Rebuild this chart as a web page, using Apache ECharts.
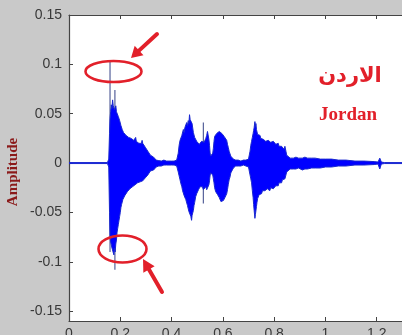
<!DOCTYPE html>
<html><head><meta charset="utf-8">
<script src="https://cdn.jsdelivr.net/npm/echarts@6/dist/echarts.min.js"></script>
<style>html,body{margin:0;padding:0;background:#c9c9c9;overflow:hidden;width:402px;height:335px}#c{width:428px;height:335px}</style>
</head><body><div id="c"></div>
<script>
// ---- envelope samples, segment by segment: time (s), upper and lower amplitude ----
const onsetTimes = [0, 0.150, 0.155];
const onsetUpper = [0.0005, 0.0005, 0.004];
const onsetLower = [-0.0005, -0.0005, -0.004];

const syl1Times = [
  0.158,0.160,0.1625,0.165,0.1675,0.170,0.1725,0.175,0.1775,0.180,
  0.1825,0.185,0.1875,0.190,0.1925,0.195,0.1975,0.200,0.2025,0.205,
  0.2075,0.210,0.2125,0.215,0.2175,0.220,0.2225,0.225,0.2275,0.230,
  0.2325,0.235,0.2375,0.240,0.2425,0.245,0.2475,0.250,0.2525,0.255,
  0.2575,0.260,0.2625,0.265,0.2675,0.270,0.2725,0.275,0.2775,0.280,
  0.2825,0.285,0.2875,0.290,0.2925,0.295,0.2975,0.300,0.3025,0.305,
  0.3075,0.310,0.3125,0.315,0.3175,0.320,0.325,0.330,0.335,0.340];
const syl1Upper = [
  0.030,0.045,0.052,0.059,0.055,0.064,0.058,0.060,0.054,0.056,
  0.058,0.052,0.053,0.050,0.047,0.046,0.043,0.041,0.038,0.036,
  0.034,0.033,0.031,0.032,0.029,0.030,0.028,0.029,0.027,0.028,
  0.026,0.028,0.025,0.027,0.025,0.027,0.024,0.026,0.023,0.025,
  0.023,0.026,0.022,0.024,0.021,0.023,0.020,0.021,0.019,0.022,
  0.020,0.023,0.020,0.022,0.018,0.019,0.016,0.017,0.014,0.016,
  0.012,0.013,0.010,0.011,0.008,0.009,0.007,0.006,0.004,0.003];
const syl1Lower = [
  -0.050,-0.075,-0.080,-0.078,-0.086,-0.088,-0.084,-0.093,-0.086,-0.090,
  -0.082,-0.078,-0.070,-0.066,-0.062,-0.058,-0.054,-0.050,-0.045,-0.042,
  -0.040,-0.037,-0.036,-0.035,-0.033,-0.034,-0.031,-0.032,-0.029,-0.030,
  -0.027,-0.029,-0.026,-0.028,-0.025,-0.027,-0.024,-0.026,-0.023,-0.025,
  -0.022,-0.024,-0.021,-0.023,-0.020,-0.022,-0.020,-0.022,-0.019,-0.021,
  -0.019,-0.021,-0.018,-0.020,-0.017,-0.018,-0.015,-0.016,-0.013,-0.015,
  -0.012,-0.013,-0.010,-0.011,-0.008,-0.009,-0.008,-0.007,-0.005,-0.004];

const gap1Times = [0.350,0.360,0.370,0.380,0.390,0.400,0.410,0.420];
const gap1Upper = [0.0025,0.002,0.003,0.002,0.002,0.002,0.002,0.003];
const gap1Lower = [-0.003,-0.003,-0.002,-0.002,-0.002,-0.002,-0.002,-0.003];

const syl2Times = [
  0.423,0.426,0.4295,0.433,0.4365,0.440,0.443,0.446,0.449,0.452,
  0.4555,0.459,0.462,0.465,0.4675,0.470,0.4725,0.475,0.478,0.480,
  0.482,0.485,0.4875,0.490,0.494,0.498,0.5015,0.505,0.508,0.511,
  0.514,0.517,0.5205,0.524,0.527,0.530,0.5335,0.537,0.540,0.543,
  0.5455,0.548,0.550,0.552,0.555,0.558,0.5605,0.563,0.5655,0.568,
  0.572,0.576,0.5795,0.583,0.586,0.589,0.5925,0.596,0.599,0.602,
  0.605,0.608,0.6115,0.615,0.618,0.621,0.6245,0.628,0.631,0.634,
  0.641];
const syl2Upper = [
  0.005,0.010,0.018,0.023,0.022,0.028,0.027,0.034,0.031,0.036,
  0.034,0.041,0.038,0.043,0.040,0.049,0.044,0.046,0.045,0.040,
  0.038,0.031,0.029,0.026,0.024,0.022,0.020,0.021,0.019,0.020,
  0.018,0.022,0.020,0.023,0.021,0.023,0.025,0.028,0.032,0.030,
  0.024,0.018,0.011,0.007,0.005,0.006,0.010,0.015,0.022,0.027,
  0.028,0.030,0.032,0.031,0.032,0.031,0.030,0.030,0.029,0.028,
  0.027,0.026,0.025,0.023,0.019,0.016,0.012,0.010,0.007,0.006,
  0.004];
const syl2Lower = [
  -0.004,-0.009,-0.013,-0.017,-0.021,-0.024,-0.028,-0.030,-0.033,-0.034,
  -0.037,-0.038,-0.043,-0.045,-0.049,-0.051,-0.050,-0.054,-0.058,-0.053,
  -0.052,-0.048,-0.043,-0.040,-0.034,-0.031,-0.029,-0.027,-0.025,-0.024,
  -0.023,-0.025,-0.024,-0.027,-0.025,-0.027,-0.024,-0.027,-0.025,-0.026,
  -0.022,-0.018,-0.013,-0.010,-0.008,-0.009,-0.012,-0.016,-0.020,-0.025,
  -0.029,-0.031,-0.032,-0.034,-0.035,-0.036,-0.039,-0.038,-0.040,-0.038,
  -0.036,-0.035,-0.033,-0.031,-0.027,-0.022,-0.017,-0.014,-0.010,-0.008,
  -0.005];

const gap2Times = [0.650,0.660,0.670,0.680,0.690,0.700];
const gap2Upper = [0.003,0.003,0.002,0.003,0.003,0.004];
const gap2Lower = [-0.003,-0.003,-0.003,-0.002,-0.003,-0.004];

const syl3Times = [
  0.703,0.706,0.709,0.712,0.715,0.718,0.720,0.722,0.725,0.727,
  0.729,0.731,0.733,0.7355,0.738,0.7415,0.745,0.748,0.751,0.7545,
  0.758,0.761,0.764,0.767,0.770,0.7735,0.777,0.780,0.783,0.7865,
  0.790,0.7935,0.797,0.800,0.803,0.8065,0.810,0.813,0.816,0.819,
  0.822,0.8255,0.829,0.832,0.835,0.8385,0.842,0.844,0.846,0.849,
  0.852,0.855,0.8625,0.870,0.875,0.880,0.885,0.890,0.895,0.900];
const syl3Upper = [
  0.006,0.012,0.018,0.022,0.026,0.030,0.033,0.036,0.042,0.037,
  0.040,0.034,0.032,0.029,0.030,0.027,0.028,0.025,0.026,0.023,
  0.024,0.022,0.023,0.022,0.024,0.021,0.023,0.021,0.022,0.021,
  0.023,0.020,0.022,0.020,0.022,0.019,0.021,0.018,0.020,0.017,
  0.019,0.016,0.017,0.015,0.016,0.014,0.017,0.015,0.012,0.008,
  0.006,0.006,0.005,0.007,0.005,0.005,0.006,0.006,0.005,0.006];
const syl3Lower = [
  -0.006,-0.012,-0.016,-0.020,-0.028,-0.035,-0.042,-0.048,-0.056,-0.052,
  -0.050,-0.044,-0.040,-0.036,-0.034,-0.032,-0.033,-0.030,-0.031,-0.028,
  -0.029,-0.027,-0.028,-0.026,-0.029,-0.026,-0.027,-0.025,-0.028,-0.025,
  -0.027,-0.024,-0.026,-0.024,-0.026,-0.023,-0.024,-0.021,-0.023,-0.020,
  -0.021,-0.018,-0.020,-0.017,-0.018,-0.015,-0.016,-0.014,-0.012,-0.009,
  -0.007,-0.008,-0.006,-0.007,-0.006,-0.008,-0.006,-0.007,-0.005,-0.006];

const tailTimes = [0.910,0.920,0.930,0.946,0.960,0.980,1.000,1.024,1.050,1.080,1.115,1.150,1.190,1.205,1.212,1.218,1.230,1.400];
const tailUpper = [0.005,0.006,0.005,0.005,0.005,0.004,0.004,0.004,0.003,0.003,0.002,0.002,0.0015,0.001,0.005,0.001,0.0005,0.0005];
const tailLower = [-0.007,-0.006,-0.006,-0.005,-0.005,-0.005,-0.004,-0.004,-0.003,-0.003,-0.002,-0.002,-0.0015,-0.001,-0.006,-0.001,-0.0005,-0.0005];

// isolated thin peaks: time, min, max
const spikeTimes = [0.160, 0.179, 0.524];
const spikeMin = [-0.090, -0.108, -0.041];
const spikeMax = [0.103, 0.074, 0.041];

const yTicks = [-0.15, -0.1, -0.05, 0, 0.05, 0.1, 0.15];

const times = [].concat(onsetTimes, syl1Times, gap1Times, syl2Times, gap2Times, syl3Times, tailTimes);
const upper = [].concat(onsetUpper, syl1Upper, gap1Upper, syl2Upper, gap2Upper, syl3Upper, tailUpper);
const lower = [].concat(onsetLower, syl1Lower, gap1Lower, syl2Lower, gap2Lower, syl3Lower, tailLower);

const axisColor = '#444';
const red = '#e2202a';

const chart = echarts.init(document.getElementById('c'), null, {renderer: 'canvas'});

const upperData = times.map((t, i) => [t, upper[i]]);
const lowerData = times.map((t, i) => [t, lower[i]]);
const spikeData = spikeTimes.map((t, i) => [t, spikeMin[i], spikeMax[i]]);

const labelStyle = {fontSize: 14, color: '#383838', fontFamily: 'Liberation Sans'};

const option = {
  animation: false,
  backgroundColor: '#c9c9c9',
  grid: {left: 69, right: 0, top: 15, bottom: 14, show: true, backgroundColor: '#ffffff', borderWidth: 0,
    containLabel: false, outerBoundsMode: 'none'},
  xAxis: [{
    type: 'value', min: 0, max: 1.4, interval: 0.2, position: 'bottom',
    axisLine: {show: true, onZero: false, lineStyle: {color: axisColor, width: 1.2}},
    axisTick: {show: true, inside: true, length: 4, lineStyle: {color: axisColor}},
    axisLabel: Object.assign({margin: 6}, labelStyle),
    splitLine: {show: false}
  }, {
    type: 'value', min: 0, max: 1.4, interval: 0.2, position: 'top',
    axisLine: {show: true, onZero: false, lineStyle: {color: axisColor, width: 1.2}},
    axisTick: {show: true, inside: true, length: 4, lineStyle: {color: axisColor}},
    axisLabel: {show: false},
    splitLine: {show: false}
  }],
  yAxis: {
    type: 'value', min: -0.16, max: 0.15,
    axisLine: {show: true, onZero: false, lineStyle: {color: axisColor, width: 1.2}},
    axisTick: {show: true, inside: true, length: 4, lineStyle: {color: axisColor}, customValues: yTicks},
    axisLabel: Object.assign({margin: 7, customValues: yTicks}, labelStyle),
    splitLine: {show: false}
  },
  series: [{
    type: 'custom', name: 'peaks', z: 2,
    encode: {x: 0, y: [1, 2]},
    data: spikeData,
    renderItem: function (params, api) {
      const p1 = api.coord([api.value(0), api.value(1)]);
      const p2 = api.coord([api.value(0), api.value(2)]);
      return {type: 'line', shape: {x1: p1[0], y1: p1[1], x2: p2[0], y2: p2[1]},
        style: {stroke: '#56619a', lineWidth: 1.2}};
    }
  }, {
    type: 'line', name: 'upper', z: 3, data: upperData, symbol: 'none',
    lineStyle: {color: '#1a28d0', width: 1}, areaStyle: {color: '#0000ff', opacity: 1}
  }, {
    type: 'line', name: 'lower', z: 3, data: lowerData, symbol: 'none',
    lineStyle: {color: '#1a28d0', width: 1}, areaStyle: {color: '#0000ff', opacity: 1}
  }]
};
chart.setOption(option);

function arrow(tail, tip, w, head, hw) {
  const dx = tip[0] - tail[0], dy = tip[1] - tail[1];
  const L = Math.sqrt(dx * dx + dy * dy);
  const ux = dx / L, uy = dy / L, nx = -uy, ny = ux;
  const bx = tip[0] - ux * head, by = tip[1] - uy * head;
  return [
    {type: 'line', shape: {x1: tail[0], y1: tail[1], x2: bx + ux * 2, y2: by + uy * 2},
      style: {stroke: red, lineWidth: w, lineCap: 'round'}, z: 10},
    {type: 'polygon', shape: {points: [tip, [bx + nx * hw, by + ny * hw], [bx - nx * hw, by - ny * hw]]},
      style: {fill: red}, z: 10}
  ];
}

chart.setOption({
  graphic: [
    {type: 'ellipse', shape: {cx: 113.5, cy: 71.5, rx: 28, ry: 10.5}, style: {fill: 'none', stroke: red, lineWidth: 2.6}, z: 10},
    {type: 'ellipse', shape: {cx: 122.5, cy: 249, rx: 24, ry: 13.5}, style: {fill: 'none', stroke: red, lineWidth: 2.6}, z: 10},
    ...arrow([157, 34], [131, 58], 4, 11, 6.5),
    ...arrow([162, 292], [143, 259], 4, 12, 6.5),
    {type: 'text', x: 350, y: 77, style: {text: 'الاردن', fill: red, font: 'bold 21px "DejaVu Sans"', align: 'center', verticalAlign: 'middle'}, z: 10},
    {type: 'text', x: 348, y: 115, style: {text: 'Jordan', fill: red, font: 'bold 19px "Liberation Serif"', align: 'center', verticalAlign: 'middle'}, z: 10},
    {type: 'text', x: 13, y: 172, rotation: Math.PI / 2, style: {text: 'Amplitude', fill: '#8b1a1a', font: 'bold 15px "Liberation Serif"', align: 'center', verticalAlign: 'middle'}, z: 10}
  ]
});
</script>
</body></html>
